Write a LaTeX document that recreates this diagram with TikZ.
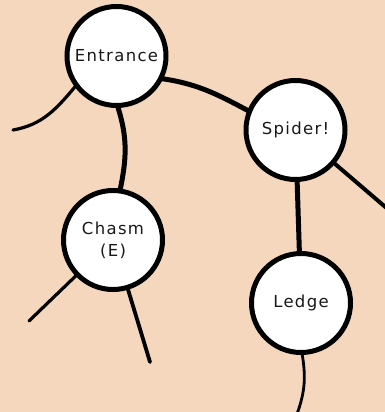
\documentclass[tikz,border=0pt]{standalone}
\usepackage{fontspec}
\newfontfamily\handfont[LetterSpace=8]{DejaVu Sans}
\definecolor{peach}{RGB}{245,215,190}
\definecolor{ink}{RGB}{25,25,25}
\begin{document}
\begin{tikzpicture}[x=1pt,y=1pt,
  room/.style={circle,draw=black,fill=white,line width=5pt,minimum size=99pt,
    inner sep=0pt,outer sep=0pt,text=ink,
    font=\handfont\fontsize{16.5}{22}\selectfont,align=center},
  link/.style={line width=5pt},
  stub/.style={line width=3.2pt,line cap=round}]
\fill[peach] (0,0) rectangle (385,-412);
\useasboundingbox (0,0) rectangle (385,-412);
\node[room] (entrance) at (116.5,-56) {Entrance};
\node[room] (spider) at (295.5,-130) {Spider!};
\node[room] (chasm) at (113,-240) {Chasm\\(E)};
\node[room] (ledge) at (301,-303) {Ledge};
\coordinate (el) at (13,-130);
\coordinate (cl) at (29,-321);
\coordinate (cr) at (150,-362);
\coordinate (sr) at (390,-211);
\coordinate (lb) at (297,-414);
\draw[link] (entrance.-27) to[out=-8,in=152] (spider.158);
\draw[link] (entrance.-89) to[out=-72,in=78] (chasm.82);
\draw[link] (spider) -- (ledge);
\draw[stub] (entrance.-144) to[out=-130,in=10] (el);
\draw[stub] (chasm) -- (cl);
\draw[stub,line width=3.8pt] (chasm) -- (cr);
\draw[line width=4pt] (spider) -- (sr);
\draw[stub,line width=2.8pt] (ledge.-89) to[out=-80,in=70] (lb);
\end{tikzpicture}
\end{document}
